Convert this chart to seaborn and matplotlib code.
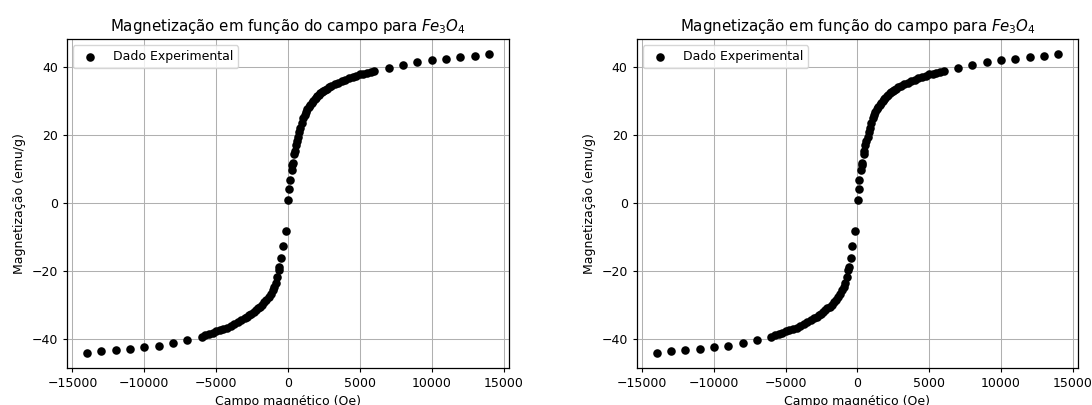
import numpy as np
import pandas as pd
import matplotlib
matplotlib.use("Agg")
import matplotlib.pyplot as plt
import seaborn as sns

# Field (Oe) and magnetization (emu/g)
campo_neg = [-14000, -13000, -12000, -11000, -10000, -9000, -8000, -7000,
             -6000, -5750, -5500, -5250, -5000, -4750, -4500, -4250, -4000,
             -3750, -3500, -3250, -3000, -2850, -2700, -2550, -2400, -2250,
             -2100, -1950, -1800, -1650, -1500, -1350, -1200, -1050, -950,
             -850, -750, -650, -600, -460, -350, -160]
mag_neg = [-44.0, -43.4, -43.1, -42.7, -42.3, -41.8, -41.1, -40.2,
           -39.2, -38.8, -38.4, -38.0, -37.6, -37.3, -37.0, -36.6, -36.1,
           -35.6, -35.0, -34.4, -33.8, -33.4, -32.9, -32.4, -31.9, -31.4,
           -30.9, -30.4, -29.8, -29.1, -28.4, -27.6, -26.7, -25.6, -24.6,
           -23.3, -21.8, -19.6, -18.8, -16.2, -12.7, -8.2]

campo_pos = [30, 100, 130, 250, 300, 330, 420, 460, 550, 620, 700, 780, 850,
             950, 1050, 1150, 1250, 1350, 1450, 1550, 1650, 1750, 1850, 1950,
             2050, 2150, 2250, 2350, 2450, 2550, 2700, 2850, 3000, 3250, 3500,
             3750, 4000, 4250, 4500, 4750, 5000, 5250, 5500, 5750, 6000, 7000,
             8000, 9000, 10000, 11000, 12000, 13000, 14000]
mag_pos = [1.0, 4.2, 6.7, 9.8, 11.3, 11.8, 14.5, 15.3, 17.0, 18.2, 19.5, 21.0,
           22.2, 23.6, 24.9, 25.8, 26.8, 27.6, 28.3, 28.9, 29.5, 30.0, 30.5,
           31.0, 31.4, 31.8, 32.2, 32.6, 32.9, 33.2, 33.6, 34.0, 34.4, 34.9,
           35.4, 35.8, 36.2, 36.6, 37.0, 37.4, 37.8, 38.0, 38.3, 38.6, 38.9,
           39.8, 40.6, 41.3, 41.9, 42.3, 42.8, 43.3, 43.8]

df = pd.DataFrame({
    "campo": campo_neg + campo_pos,
    "mag": mag_neg + mag_pos,
})

plt.rcParams.update({
    "font.size": 9,
    "xtick.major.size": 3.2,
    "ytick.major.size": 3.2,
    "xtick.major.pad": 3.2,
    "ytick.major.pad": 3.2,
    "axes.linewidth": 0.9,
    "grid.linewidth": 0.75,
})

fig = plt.figure(figsize=(10.92, 4.05), dpi=100)
positions = [[0.0611, 0.0914, 0.4053, 0.8123],
             [0.5830, 0.0914, 0.4045, 0.8123]]

for pos in positions:
    ax = fig.add_axes(pos)
    sns.scatterplot(data=df, x="campo", y="mag", ax=ax, color="black",
                    s=38, linewidth=0, label="Dado Experimental")
    ax.set_title("Magnetização em função do campo para $Fe_3O_4$", fontsize=10.8)
    ax.set_xlabel("Campo magnético (Oe)")
    ax.set_ylabel("Magnetização (emu/g)")
    ax.set_xticks([-15000, -10000, -5000, 0, 5000, 10000, 15000])
    ax.set_yticks([-40, -20, 0, 20, 40])
    ax.grid(True)
    ax.set_axisbelow(True)
    ax.legend(loc="upper left")

fig.savefig("out.png", dpi=100)
